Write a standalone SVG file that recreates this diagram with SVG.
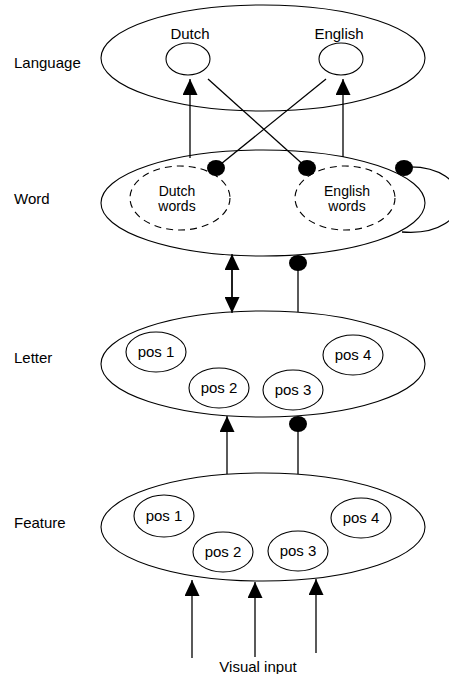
<svg xmlns="http://www.w3.org/2000/svg" width="449" height="674" viewBox="0 0 449 674">
<style>
text{font-family:"Liberation Sans",Arial,sans-serif;font-size:15px;fill:#000}
.c{text-anchor:middle}
.s{font-size:14px}
.e{fill:none;stroke:#000;stroke-width:1.1}
.d{fill:none;stroke:#000;stroke-width:1.1;stroke-dasharray:7 5}
.l{fill:none;stroke:#000;stroke-width:1.3}
.dot{fill:#000}
</style>
<defs>
<marker id="arr" viewBox="0 0 16 15" refX="16" refY="7.5" markerWidth="16" markerHeight="15" markerUnits="userSpaceOnUse" orient="auto"><path d="M0,0 L16,7.5 L0,15 Z" fill="#000"/></marker>
</defs>
<rect width="449" height="674" fill="#fff"/>
<g id="language">
<ellipse class="e" cx="263" cy="58" rx="162" ry="53"/>
<text x="14" y="68">Language</text>
<g id="dutch"><ellipse class="e" cx="188" cy="59" rx="22" ry="16"/><text class="c" x="190" y="39">Dutch</text></g>
<g id="english"><ellipse class="e" cx="341" cy="59" rx="22" ry="16"/><text class="c" x="339" y="39">English</text></g>
</g>
<g id="word">
<ellipse class="e" cx="263" cy="203" rx="162" ry="53"/>
<text x="14" y="204">Word</text>
<g id="dutchwords"><ellipse class="d" cx="180" cy="198" rx="50" ry="32"/><text class="c s" x="177" y="196">Dutch</text><text class="c s" x="177" y="211">words</text></g>
<g id="englishwords"><ellipse class="d" cx="345" cy="198" rx="50" ry="32"/><text class="c s" x="347" y="196">English</text><text class="c s" x="347" y="211">words</text></g>
</g>
<g id="letter">
<ellipse class="e" cx="263" cy="364" rx="162" ry="53"/>
<text x="14" y="363">Letter</text>
<g id="lpos1"><ellipse class="e" cx="156" cy="352" rx="30" ry="20"/><text class="c" x="156" y="357">pos 1</text></g>
<g id="lpos2"><ellipse class="e" cx="219" cy="388" rx="30" ry="20"/><text class="c" x="219" y="393">pos 2</text></g>
<g id="lpos3"><ellipse class="e" cx="293" cy="390" rx="30" ry="20"/><text class="c" x="293" y="395">pos 3</text></g>
<g id="lpos4"><ellipse class="e" cx="353" cy="355" rx="30" ry="20"/><text class="c" x="353" y="360">pos 4</text></g>
</g>
<g id="feature">
<ellipse class="e" cx="263" cy="527" rx="162" ry="54"/>
<text x="14" y="528">Feature</text>
<g id="fpos1"><ellipse class="e" cx="164" cy="516" rx="30" ry="21"/><text class="c" x="164" y="521">pos 1</text></g>
<g id="fpos2"><ellipse class="e" cx="223" cy="552" rx="30" ry="20"/><text class="c" x="223" y="557">pos 2</text></g>
<g id="fpos3"><ellipse class="e" cx="298" cy="551" rx="30" ry="20"/><text class="c" x="298" y="556">pos 3</text></g>
<g id="fpos4"><ellipse class="e" cx="361" cy="518" rx="30" ry="20"/><text class="c" x="361" y="523">pos 4</text></g>
</g>
<g id="visualinput"><text class="c" x="258" y="672">Visual input</text></g>
<g id="connectors">
<line class="l" x1="190" y1="158" x2="190" y2="79" marker-end="url(#arr)"/>
<line class="l" x1="343" y1="157" x2="343" y2="79" marker-end="url(#arr)"/>
<line class="l" x1="208" y1="79" x2="307" y2="168"/>
<line class="l" x1="326" y1="79" x2="216" y2="168"/>
<ellipse class="dot" cx="216" cy="168" rx="9" ry="8"/>
<ellipse class="dot" cx="307" cy="168" rx="9" ry="8"/>
<ellipse class="dot" cx="404" cy="168" rx="9" ry="8"/>
<path class="l" d="M404,167 C478,163 478,238 402,232"/>
<line class="l" x1="232" y1="260" x2="232" y2="313" marker-end="url(#arr)"/>
<line class="l" x1="232" y1="300" x2="232" y2="254" marker-end="url(#arr)"/>
<line class="l" x1="298" y1="312" x2="298" y2="263"/>
<ellipse class="dot" cx="298" cy="263" rx="9" ry="8"/>
<line class="l" x1="227" y1="474" x2="227" y2="416" marker-end="url(#arr)"/>
<line class="l" x1="298" y1="474" x2="298" y2="424"/>
<ellipse class="dot" cx="298" cy="424" rx="9" ry="8"/>
<line class="l" x1="192" y1="658" x2="192" y2="580" marker-end="url(#arr)"/>
<line class="l" x1="255" y1="657" x2="255" y2="582" marker-end="url(#arr)"/>
<line class="l" x1="316" y1="653" x2="316" y2="579" marker-end="url(#arr)"/>
</g>
</svg>
